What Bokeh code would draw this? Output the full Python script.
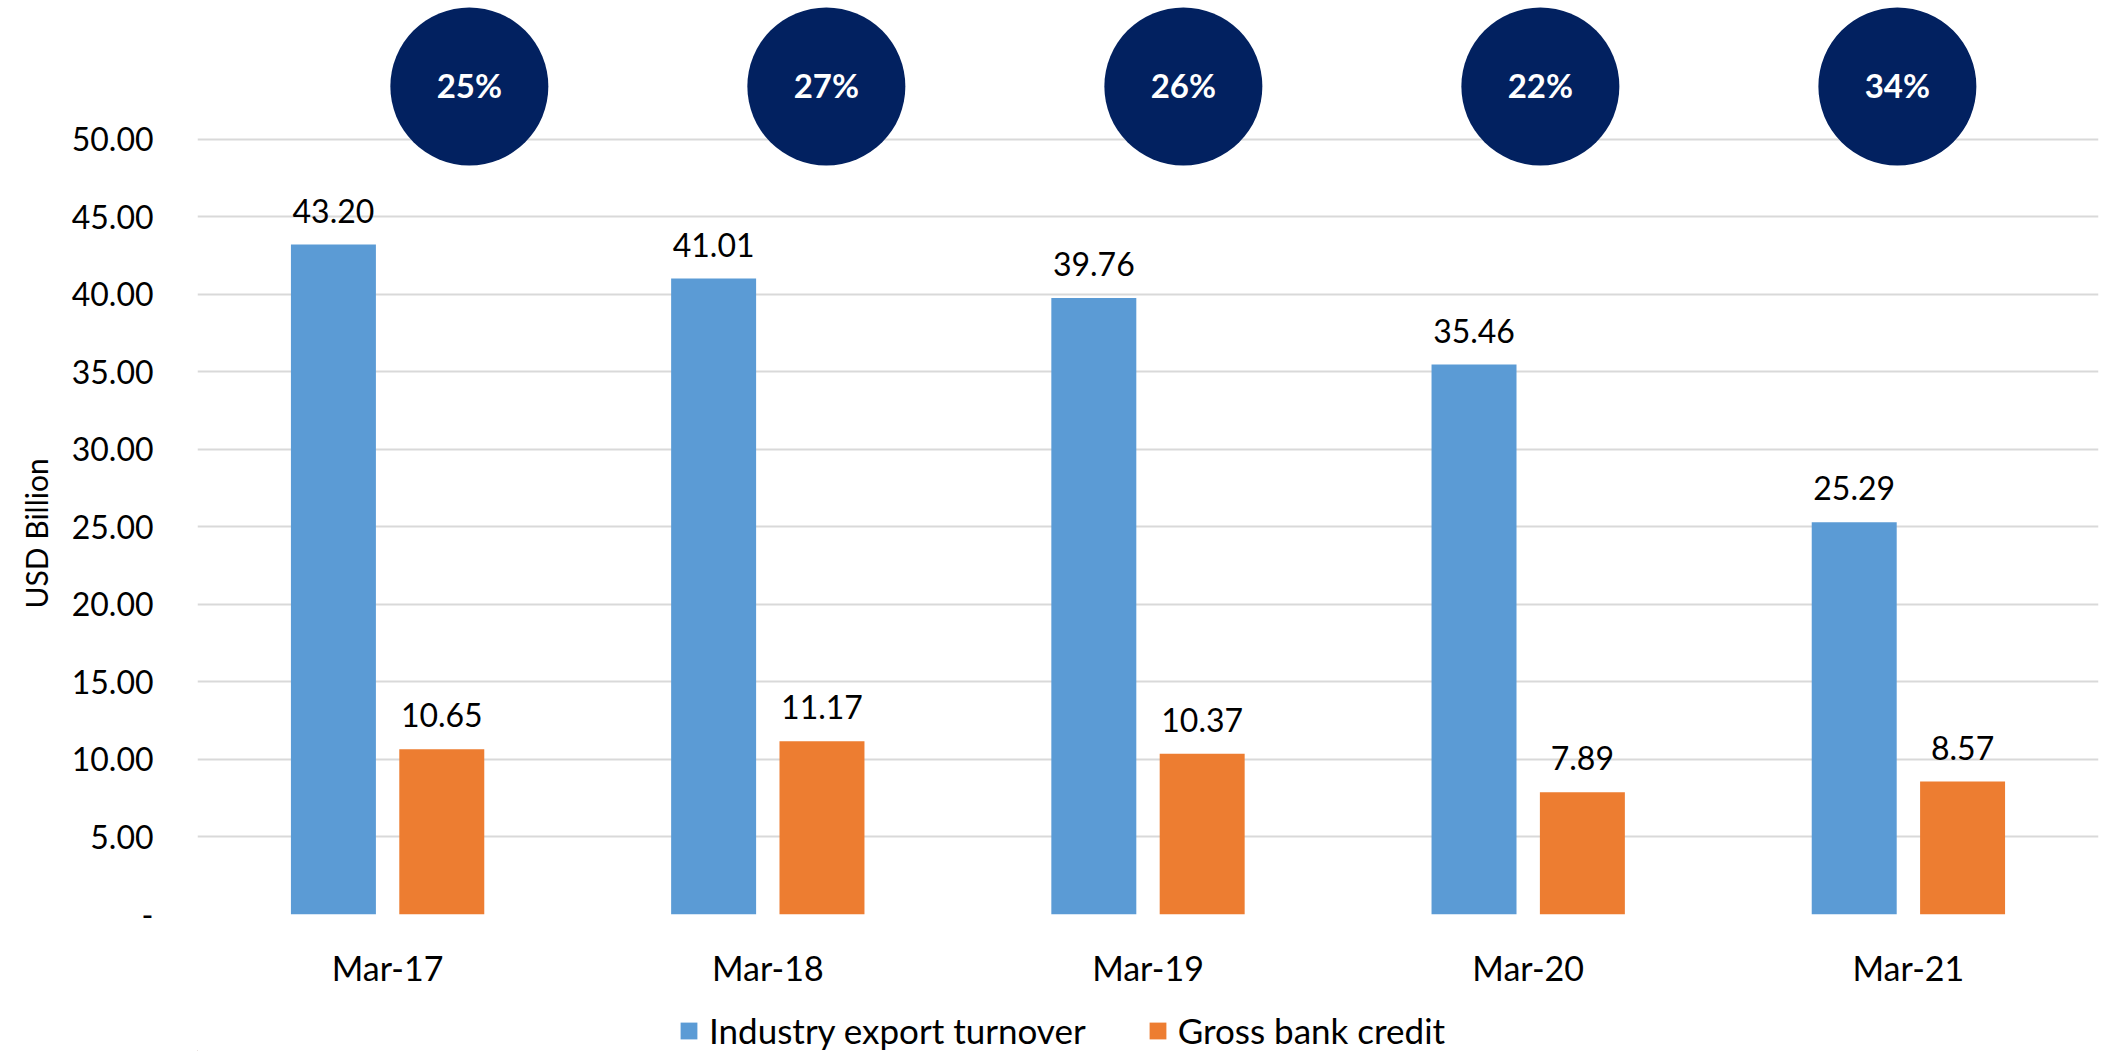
import numpy as np
from bokeh.plotting import figure
from bokeh.layouts import column
from bokeh.models import (ColumnDataSource, Range1d, FixedTicker, PrintfTickFormatter,
                          LabelSet, Title, Legend, LegendItem)
from bokeh.transform import dodge
from bokeh.core.properties import value
from bokeh.embed import file_html
from bokeh.resources import INLINE

# ---- data ----
categories = ["Mar-17", "Mar-18", "Mar-19", "Mar-20", "Mar-21"]
export_turnover = [43.20, 41.01, 39.76, 35.46, 25.29]
bank_credit = [10.65, 11.17, 10.37, 7.89, 8.57]
credit_share = ["25%", "27%", "26%", "22%", "34%"]
series_names = ["Industry export turnover", "Gross bank credit"]
y_ticks = [0, 5, 10, 15, 20, 25, 30, 35, 40, 45, 50]

# ---- style ----
FONT = "Lato"
BLUE = "#5B9BD5"
ORANGE = "#ED7D31"
NAVY = "#022160"
GRID = "#D9D9D9"
TXT = "#000000"

W = 2110
H_MAIN, H_LEG = 990, 61
BAR_W = 0.2235
OFF = 0.1425
BADGE_START, BADGE_STEP = 0.715, 0.939
BADGE_Y = 53.4

xs = np.arange(len(categories)) + 0.5
src = ColumnDataSource(dict(
    x=xs, cat=categories, exp=export_turnover, cred=bank_credit,
    exp_lbl=[f"{v:.2f}" for v in export_turnover],
    cred_lbl=[f"{v:.2f}" for v in bank_credit],
))
badge_src = ColumnDataSource(dict(
    x=BADGE_START + BADGE_STEP * np.arange(len(credit_share)),
    y=[BADGE_Y] * len(credit_share),
    t=credit_share,
))

p = figure(width=W, height=H_MAIN, output_backend="svg", toolbar_location=None,
           title=None, x_range=Range1d(0, 5), y_range=Range1d(0, 58.94),
           min_border_left=196, min_border_right=12, min_border_top=0,
           min_border_bottom=74, outline_line_color=None,
           background_fill_color="white", border_fill_color="white")

p.vbar(x=dodge("x", -OFF), top="exp", width=BAR_W, source=src,
       fill_color=BLUE, line_color=None)
p.vbar(x=dodge("x", OFF), top="cred", width=BAR_W, source=src,
       fill_color=ORANGE, line_color=None)

# value labels
for col, off in (("exp", -OFF), ("cred", OFF)):
    p.add_layout(LabelSet(x=dodge("x", off), y=col, text=col + "_lbl", source=src,
                          text_align="center", text_baseline="alphabetic",
                          y_offset=22, text_font=value(FONT),
                          text_font_size=value("32px"), text_color=TXT))

# badges
p.scatter(x="x", y="y", source=badge_src, marker="circle", size=158,
          fill_color=NAVY, line_color=None)
p.add_layout(LabelSet(x="x", y="y", text="t", source=badge_src,
                      text_align="center", text_baseline="alphabetic",
                      y_offset=-12, text_font=value(FONT), text_font_style="bold",
                      text_font_size=value("33px"), text_color="white"))

# axes
p.xaxis.ticker = FixedTicker(ticks=list(xs))
p.xaxis.major_label_overrides = {float(x): c for x, c in zip(xs, categories)}
p.xaxis.axis_line_color = None
p.xaxis.major_tick_line_color = None
p.xaxis.minor_tick_line_color = None
p.xaxis.major_tick_out = 0
p.xaxis.major_tick_in = 0
p.xaxis.major_label_standoff = 32
p.xaxis.major_label_text_font = FONT
p.xaxis.major_label_text_font_size = "34px"
p.xaxis.major_label_text_color = TXT

p.yaxis.ticker = FixedTicker(ticks=y_ticks)
p.yaxis.formatter = PrintfTickFormatter(format="%.2f")
p.yaxis.major_label_overrides = {0: "-"}
p.yaxis.axis_line_color = None
p.yaxis.major_tick_line_color = None
p.yaxis.minor_tick_line_color = None
p.yaxis.major_tick_out = 0
p.yaxis.major_tick_in = 0
p.yaxis.major_label_standoff = 44
p.yaxis.major_label_text_font = FONT
p.yaxis.major_label_text_font_size = "32px"
p.yaxis.major_label_text_color = TXT

p.xgrid.grid_line_color = None
p.ygrid.ticker = FixedTicker(ticks=y_ticks)
p.ygrid.grid_line_color = GRID
p.ygrid.grid_line_width = 2

# axis title
p.add_layout(Title(text="USD Billion", align="left", offset=306,
                   text_font=FONT, text_font_size="30px", text_font_style="normal",
                   text_color=TXT, standoff=30), "left")

# ---- legend strip ----
lg = figure(width=W, height=H_LEG, output_backend="svg", toolbar_location=None,
            title=None, x_range=Range1d(0, W), y_range=Range1d(0, H_LEG),
            x_axis_type=None, y_axis_type=None,
            min_border_left=196, min_border_right=12, min_border_top=0,
            min_border_bottom=0, outline_line_color=None,
            background_fill_color="white", border_fill_color="white")
lg.xgrid.visible = False
lg.ygrid.visible = False
r1 = lg.vbar(x=[-1000], top=[1], width=1, fill_color=BLUE, line_color=None)
r2 = lg.vbar(x=[-1000], top=[1], width=1, fill_color=ORANGE, line_color=None)
legend = Legend(items=[LegendItem(label=series_names[0], renderers=[r1]),
                       LegendItem(label=series_names[1], renderers=[r2])],
                location=(481, 0), orientation="horizontal",
                glyph_width=21, glyph_height=21, label_standoff=10, spacing=61,
                label_width=372, padding=0, margin=0, border_line_color=None,
                background_fill_alpha=0, label_text_font=FONT,
                label_text_font_size="35px", label_text_color=TXT)
lg.add_layout(legend, "center")

layout = column(p, lg, spacing=0)
open("out.html", "w").write(file_html(layout, INLINE))
